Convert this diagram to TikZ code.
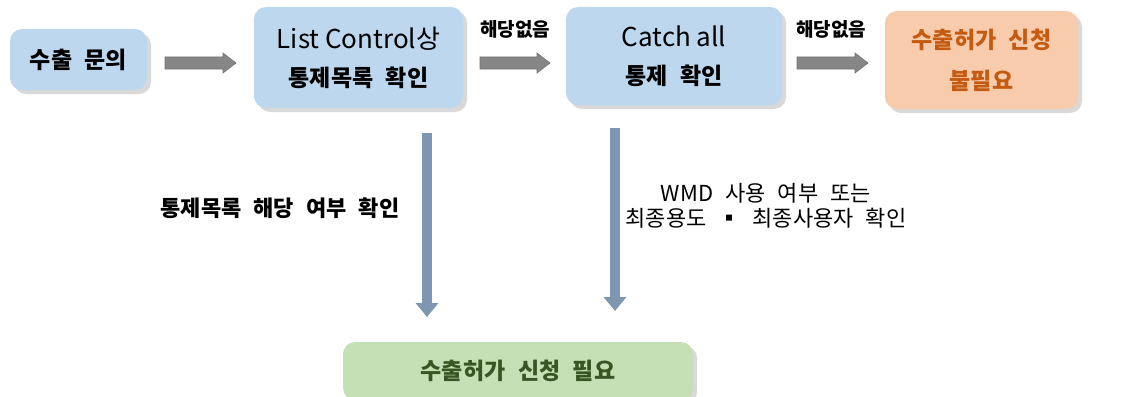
\documentclass[tikz,border=0pt]{standalone}
\usepackage{fontspec}
\setmainfont{Noto Sans CJK KR}
\newfontfamily\kr{Noto Sans CJK KR}
\usetikzlibrary{shadows,arrows.meta,calc}
\definecolor{boxblue}{HTML}{BDD7EE}
\definecolor{boxorange}{HTML}{F8CBAD}
\definecolor{txtorange}{HTML}{C55A11}
\definecolor{boxgreen}{HTML}{C5E0B4}
\definecolor{txtgreen}{HTML}{375623}
\definecolor{varrow}{HTML}{7F96B2}
\newcommand{\gp}{\hspace{0.55em}}
\newcommand{\latl}{\fontsize{26}{30}\selectfont}
\newcommand{\korb}{\bfseries\fontsize{23}{30}\selectfont}
\tikzset{
  box/.style={rounded corners=12pt, fill=boxblue, inner sep=0pt, align=center,
    drop shadow={shadow xshift=4pt, shadow yshift=-4pt, opacity=0.25, fill=black!60}},
  bigtxt/.style={font=\kr\fontsize{23}{30}\selectfont},
  lbl/.style={font=\kr\bfseries\fontsize{19}{22}\selectfont},
  garrow/.style={fill=gray!95, draw=gray!110, line width=0.6pt},
  vline/.style={draw=varrow, line width=10pt, -{Triangle[width=22pt,length=14pt]}},
}
\newcommand{\hblock}[2]{%
  \path[garrow] let \p1=(#1), \p2=(#2) in
    (\x1,\y1-6) -- (\x2-13,\y1-6) -- (\x2-13,\y1-10) -- (\x2,\y1) -- (\x2-13,\y1+10)
    -- (\x2-13,\y1+6) -- (\x1,\y1+6) -- cycle;}
\begin{document}
\begin{tikzpicture}[x=1pt,y=-1pt]
\useasboundingbox (0,0) rectangle (1129,396);
\node[box, minimum width=137pt, minimum height=61pt, bigtxt] (q) at (78.5,59.5) {\korb 수출\gp 문의};
\node[box, minimum width=209pt, minimum height=101pt, bigtxt] (lc) at (358.5,57.5)
  {{\latl List Control상}\\[8pt]{\korb 통제목록\gp 확인}};
\node[box, minimum width=216pt, minimum height=98pt, bigtxt] (ca) at (674,56)
  {{\latl Catch all}\\[8pt]{\korb 통제\gp 확인}};
\node[box, fill=boxorange, minimum width=193pt, minimum height=98pt, bigtxt, text=txtorange] (nn) at (981.5,60)
  {{\korb 수출허가\gp 신청}\\[11pt]{\korb 불필요}};
\node[box, fill=boxgreen, minimum width=350pt, minimum height=58pt, bigtxt, text=txtgreen] (need) at (518,371)
  {\korb 수출허가\gp 신청\gp 필요};

\coordinate (a1s) at (165,63); \coordinate (a1e) at (236,63);
\coordinate (a2s) at (480,63); \coordinate (a2e) at (550,63);
\coordinate (a3s) at (797,63); \coordinate (a3e) at (868,63);
\hblock{a1s}{a1e}
\hblock{a2s}{a2e}
\hblock{a3s}{a3e}
\node[lbl] (l1) at (515,29) {해당없음};
\node[lbl] (l2) at (831,29) {해당없음};

\coordinate (v1s) at (427,133); \coordinate (v1e) at (427,317);
\coordinate (v2s) at (615,128); \coordinate (v2e) at (615,311);
\draw[vline] (v1s) -- (v1e);
\draw[vline] (v2s) -- (v2e);
\node[font=\kr\bfseries\fontsize{22}{28}\selectfont] (m1) at (280,208) {통제목록\gp 해당\gp 여부\gp 확인};
\node[font=\kr\fontsize{22}{25}\selectfont, align=center] (m2) at (766,206)
  {WMD\gp 사용\gp 여부\gp 또는\\최종용도\gp ▪\gp 최종사용자\gp 확인};
\end{tikzpicture}
\end{document}
